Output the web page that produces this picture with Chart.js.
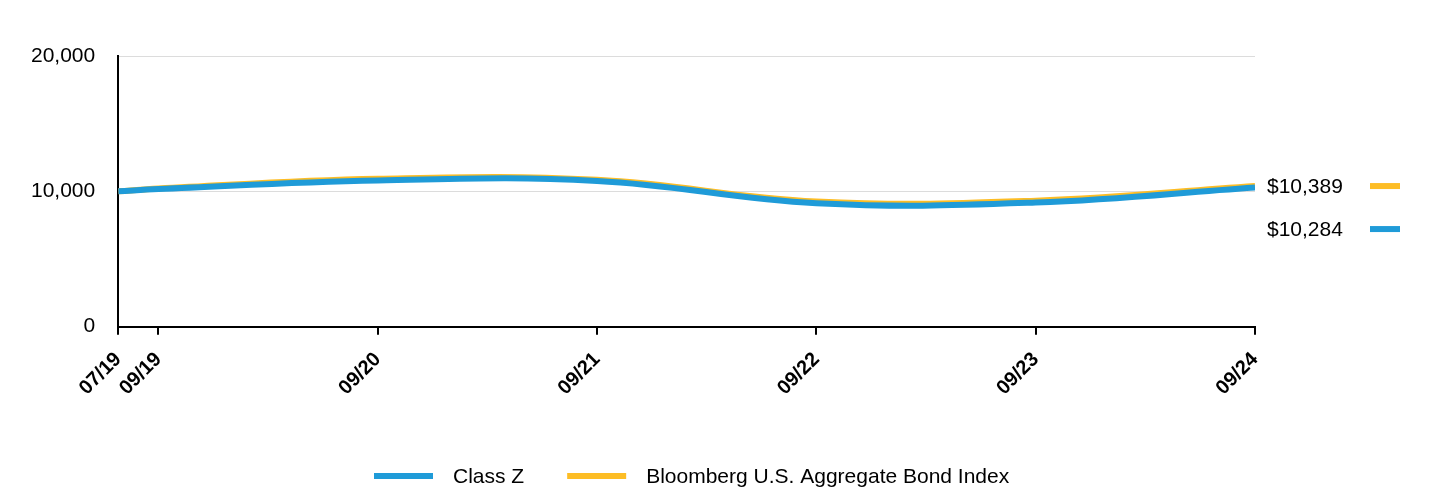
<!DOCTYPE html>
<html>
<head>
<meta charset="utf-8">
<script src="https://cdn.jsdelivr.net/npm/chart.js@4.4.1/dist/chart.umd.min.js"></script>
<style>
  html, body { margin: 0; padding: 0; background: #fff; }
  #wrap { width: 1440px; height: 492px; }
</style>
</head>
<body>
<div id="wrap"><canvas id="chart"></canvas></div>
<script>
// months since the 07/19 start for each tick / data point
var months = [0, 2.2, 14.2, 26.2, 38.2, 50.2, 62.2];
var tickLabels = ['07/19', '09/19', '09/20', '09/21', '09/22', '09/23', '09/24'];

var classZ = [10000, 10170, 10800, 10770, 9120, 9170, 10284];
var bondIndex = [10000, 10210, 10930, 10850, 9250, 9310, 10389];

var blue = '#1f9bd8';
var orange = '#fdbd25';
var FONT = '"Liberation Sans", Arial, sans-serif';

function pts(vals) {
    return vals.map(function (v, i) { return { x: months[i], y: v }; });
}

// end-of-line value labels on the right
var endLabels = {
    id: 'endLabels',
    afterDatasetsDraw: function (chart) {
        var ctx = chart.ctx;
        var area = chart.chartArea;
        var items = chart.data.datasets.map(function (ds, i) {
            var meta = chart.getDatasetMeta(i);
            var last = meta.data[meta.data.length - 1];
            var v = ds.data[ds.data.length - 1].y;
            return { y: last.y, text: '$' + v.toLocaleString('en-US'), color: ds.borderColor };
        });
        items.sort(function (a, b) { return a.y - b.y; });
        for (var i = 1; i < items.length; i++) {
            if (items[i].y - items[i - 1].y < 43) items[i].y = items[i - 1].y + 43;
        }
        ctx.save();
        ctx.font = '21px ' + FONT;
        ctx.textBaseline = 'middle';
        items.forEach(function (it) {
            ctx.fillStyle = '#000';
            ctx.fillText(it.text, area.right + 12, it.y + 1);
            ctx.fillStyle = it.color;
            ctx.fillRect(area.right + 115, it.y - 3, 30, 6);
        });
        ctx.restore();
    }
};

// legend drawn under the axis
var bottomLegend = {
    id: 'bottomLegend',
    afterDraw: function (chart) {
        var ctx = chart.ctx;
        var area = chart.chartArea;
        var y = 476;
        ctx.save();
        ctx.font = '21px ' + FONT;
        ctx.textBaseline = 'middle';
        var sw = 59, gapText = 20, gapItem = 43;
        var total = 0;
        chart.data.datasets.forEach(function (ds, i) {
            total += sw + gapText + ctx.measureText(ds.label).width;
            if (i > 0) total += gapItem;
        });
        var x = (area.left + area.right) / 2 + 5 - total / 2;
        chart.data.datasets.forEach(function (ds) {
            ctx.fillStyle = ds.borderColor;
            ctx.fillRect(x, y - 3, sw, 6);
            x += sw + gapText;
            ctx.fillStyle = '#000';
            ctx.fillText(ds.label, x, y + 1);
            x += ctx.measureText(ds.label).width + gapItem;
        });
        ctx.restore();
    }
};

var ctx = document.getElementById('chart');

var chartGraph = new Chart(ctx, {
    type: 'line',
    data: {
        datasets: [{
            label: 'Class Z',
            data: pts(classZ),
            borderWidth: 6,
            borderColor: blue,
            backgroundColor: blue,
            pointRadius: 0,
            tension: 0.4
        },
        {
            label: 'Bloomberg U.S. Aggregate Bond Index',
            data: pts(bondIndex),
            borderWidth: 6,
            borderColor: orange,
            backgroundColor: orange,
            pointRadius: 0,
            tension: 0.4
        }]
    },
    options: {
        responsive: true,
        maintainAspectRatio: false,
        animation: false,
        layout: { padding: { top: 56, right: 185, left: 8, bottom: 79 } },
        plugins: {
            tooltip: { enabled: false },
            legend: { display: false }
        },
        scales: {
            x: {
                type: 'linear',
                min: 0,
                max: 62.2,
                afterBuildTicks: function (axis) {
                    axis.ticks = months.map(function (m) { return { value: m }; });
                },
                ticks: {
                    autoSkip: false,
                    minRotation: 45,
                    maxRotation: 45,
                    color: '#000',
                    padding: 13,
                    font: { size: 20, weight: 'bold', family: FONT },
                    callback: function (value) {
                        var i = months.indexOf(value);
                        return i >= 0 ? tickLabels[i] : '';
                    }
                },
                grid: { drawOnChartArea: false, drawTicks: true, tickLength: 8, color: '#000', lineWidth: 2 },
                border: { color: '#000', width: 2 }
            },
            y: {
                min: 0,
                max: 20000,
                ticks: {
                    stepSize: 10000,
                    color: '#000',
                    padding: 23,
                    font: { size: 21, family: FONT },
                    callback: function (v) { return v.toLocaleString('en-US'); }
                },
                grid: { drawTicks: false, color: '#dcdcdc', lineWidth: 1 },
                border: { color: '#000', width: 2 }
            }
        }
    },
    plugins: [endLabels, bottomLegend]
});
</script>
</body>
</html>
